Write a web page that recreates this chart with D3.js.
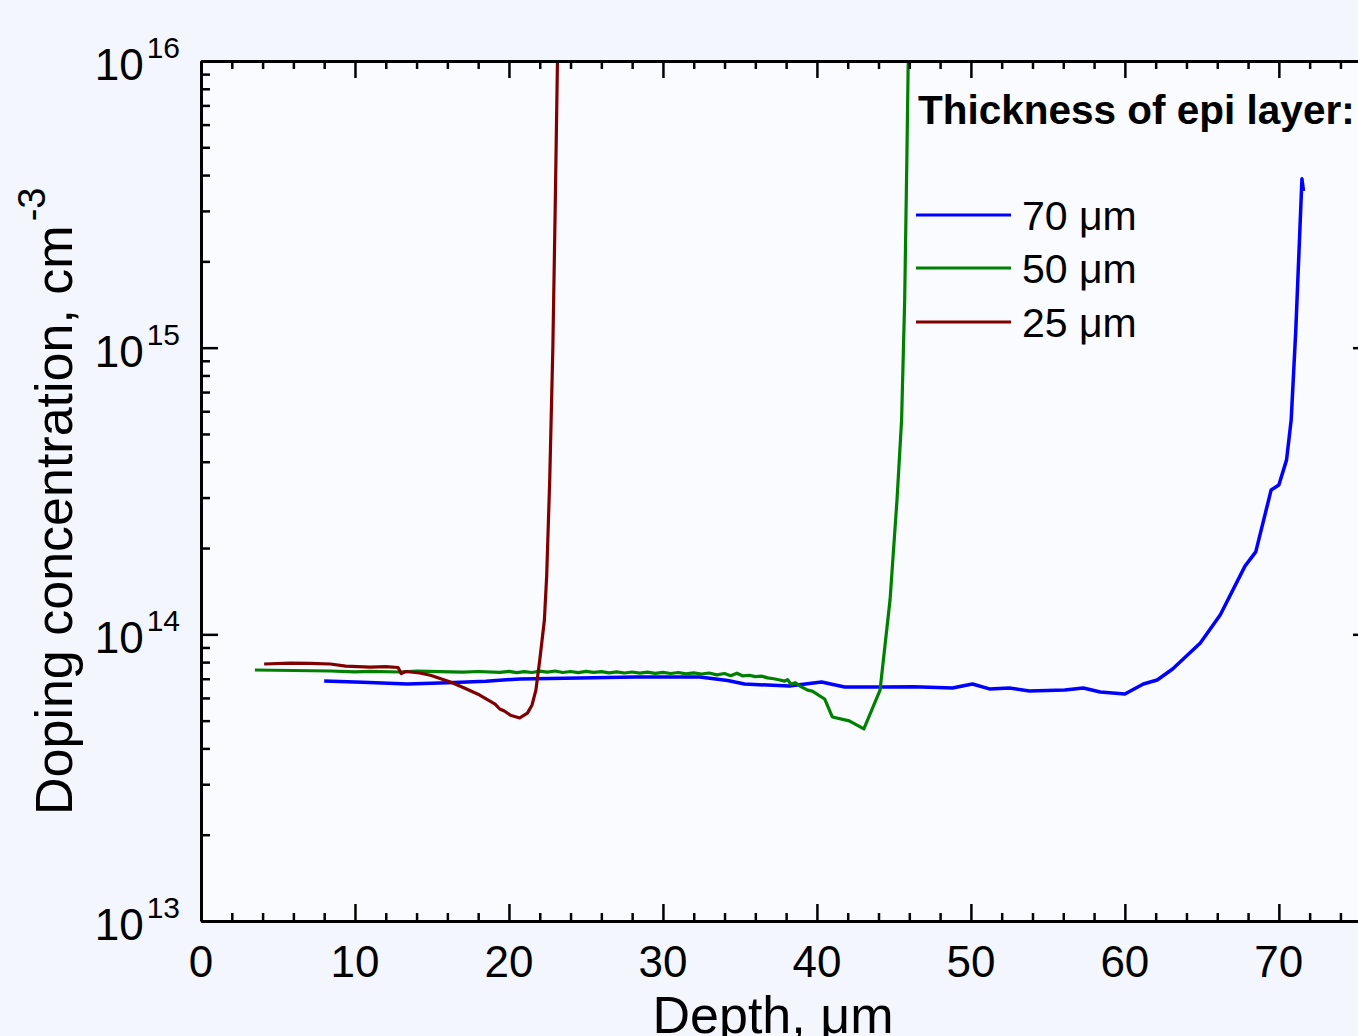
<!DOCTYPE html>
<html>
<head>
<meta charset="utf-8">
<script src="https://cdn.jsdelivr.net/npm/d3@7"></script>
<style>
    body { margin: 0; background: #f3f7fd; overflow: hidden; }
    svg { display: block; font-family: "Liberation Sans", Arial, sans-serif; }
    .axis path, .axis line { stroke: #000; }
</style>
</head>
<body>
<div id="chart-div"></div>
<script>
// depth (um), doping concentration (cm^-3)
const series70 = [
    [8.0, 6.87e13], [10.5, 6.80e13], [13.4, 6.71e13], [16.0, 6.78e13], [18.5, 6.86e13],
    [20.7, 6.99e13], [24.6, 7.04e13], [28.2, 7.10e13], [32.4, 7.10e13], [34.2, 6.90e13],
    [35.3, 6.71e13], [38.2, 6.60e13], [40.3, 6.82e13], [41.8, 6.55e13], [44.3, 6.55e13],
    [46.3, 6.56e13], [48.8, 6.50e13], [50.1, 6.71e13], [51.2, 6.45e13], [52.5, 6.50e13],
    [53.8, 6.34e13], [56.1, 6.39e13], [57.3, 6.50e13], [58.4, 6.29e13], [60.0, 6.19e13],
    [61.2, 6.71e13], [62.1, 6.93e13], [63.1, 7.57e13], [64.9, 9.33e13], [66.2, 1.17e14],
    [67.8, 1.73e14], [68.5, 1.94e14], [69.5, 3.19e14], [70.0, 3.32e14], [70.5, 4.06e14],
    [70.8, 5.59e14], [71.1, 1.15e15], [71.5, 3.88e15], [71.6, 3.52e15]
];

const series50 = [
    [3.5, 7.51e13], [6.0, 7.48e13], [8.4, 7.45e13], [10.0, 7.40e13], [11.0, 7.43e13],
    [12.9, 7.39e13], [14.0, 7.44e13], [15.5, 7.41e13], [17.0, 7.38e13], [18.0, 7.42e13],
    [19.4, 7.37e13], [20.0, 7.43e13], [20.5, 7.35e13], [21.0, 7.41e13], [21.5, 7.36e13],
    [22.0, 7.44e13], [22.5, 7.38e13], [23.0, 7.45e13], [23.5, 7.36e13], [24.0, 7.42e13],
    [24.5, 7.35e13], [25.0, 7.43e13], [25.5, 7.37e13], [26.0, 7.41e13], [26.5, 7.34e13],
    [27.0, 7.40e13], [27.5, 7.33e13], [28.0, 7.39e13], [28.5, 7.32e13], [29.0, 7.38e13],
    [29.5, 7.31e13], [30.0, 7.37e13], [30.5, 7.30e13], [31.0, 7.36e13], [31.5, 7.28e13],
    [32.0, 7.34e13], [32.5, 7.27e13], [33.0, 7.33e13], [33.5, 7.22e13], [34.0, 7.30e13],
    [34.4, 7.17e13], [34.8, 7.32e13], [35.2, 7.16e13], [35.6, 7.20e13], [36.0, 7.12e13],
    [36.4, 7.15e13], [36.8, 7.05e13], [37.2, 7.00e13], [37.6, 6.93e13], [37.9, 6.87e13],
    [38.1, 6.95e13], [38.3, 6.70e13], [38.6, 6.78e13], [38.9, 6.60e13], [39.4, 6.39e13],
    [39.7, 6.34e13], [40.5, 5.95e13], [41.0, 5.15e13], [42.1, 4.99e13], [43.05, 4.68e13],
    [44.1, 6.39e13], [44.75, 1.32e14], [45.2, 2.94e14], [45.5, 5.6e14], [45.7, 1.47e15],
    [45.85, 4.9e15], [45.95, 1.2e16]
];

const series25 = [
    [4.1, 7.88e13], [5.8, 7.94e13], [7.1, 7.92e13], [8.4, 7.88e13], [9.4, 7.75e13],
    [11.0, 7.69e13], [12.0, 7.71e13], [12.8, 7.66e13], [13.0, 7.30e13], [13.3, 7.42e13],
    [14.2, 7.33e13], [14.9, 7.20e13], [16.2, 6.82e13], [17.1, 6.50e13], [18.1, 6.14e13],
    [19.1, 5.71e13], [19.4, 5.49e13], [19.7, 5.40e13], [20.1, 5.22e13], [20.7, 5.11e13],
    [21.2, 5.31e13], [21.5, 5.67e13], [21.75, 6.39e13], [22.0, 8.14e13], [22.3, 1.12e14],
    [22.45, 1.6e14], [22.65, 3.5e14], [22.85, 1.0e15], [23.0, 3.0e15], [23.15, 1.0e16],
    [23.2, 1.3e16]
];

const seriesNames = ["70 \u03bcm", "50 \u03bcm", "25 \u03bcm"];
const seriesColors = ["#0000ff", "#008000", "#800000"];
const seriesWidths = [3.5, 3.2, 3.2];

const xMajorTicks = [0, 10, 20, 30, 40, 50, 60, 70];
const xMinorTicks = d3.range(2, 76, 2).filter(v => v % 10 !== 0);
const yMajorExponents = [13, 14, 15, 16];

const WIDTH = 1358;
const HEIGHT = 1036;
const PLOT_LEFT = 201;
const PLOT_RIGHT = 1362;
const PLOT_TOP = 61;
const PLOT_BOTTOM = 921;

setup();

function setup() {
    let svg = d3.select("#chart-div")
        .append("svg")
        .attr("width", WIDTH)
        .attr("height", HEIGHT);

    let xScale = d3.scaleLinear()
        .domain([0, 75.4])
        .range([PLOT_LEFT, PLOT_RIGHT]);

    let yScale = d3.scaleLog()
        .domain([1e13, 1e16])
        .range([PLOT_BOTTOM, PLOT_TOP]);

    // plot background
    svg.append("rect")
        .attr("x", PLOT_LEFT)
        .attr("y", PLOT_TOP)
        .attr("width", PLOT_RIGHT - PLOT_LEFT)
        .attr("height", PLOT_BOTTOM - PLOT_TOP)
        .attr("fill", "#f9fbff");

    svg.append("clipPath")
        .attr("id", "plot-clip")
        .append("rect")
        .attr("x", PLOT_LEFT)
        .attr("y", PLOT_TOP)
        .attr("width", PLOT_RIGHT - PLOT_LEFT)
        .attr("height", PLOT_BOTTOM - PLOT_TOP);

    let line = d3.line()
        .x(d => xScale(d[0]))
        .y(d => yScale(d[1]));

    let allSeries = [series70, series50, series25];
    let lines = svg.append("g").attr("clip-path", "url(#plot-clip)");
    allSeries.forEach((s, i) => {
        lines.append("path")
            .datum(s)
            .attr("d", line)
            .attr("fill", "none")
            .attr("stroke", seriesColors[i])
            .attr("stroke-width", seriesWidths[i])
            .attr("stroke-linejoin", "round");
    });

    // minor y ticks (2..9 per decade)
    let yMinor = [];
    for (let e = 13; e < 16; e++) {
        for (let m = 2; m <= 9; m++) yMinor.push(m * Math.pow(10, e));
    }
    let yMajor = yMajorExponents.map(e => Math.pow(10, e));

    // bottom axis
    let bottom = svg.append("g")
        .classed("axis", true)
        .attr("transform", "translate(0," + PLOT_BOTTOM + ")");
    bottom.call(d3.axisBottom(xScale).tickValues(xMajorTicks).tickSize(-17).tickSizeOuter(0).tickFormat(""));
    bottom.append("g").call(d3.axisBottom(xScale).tickValues(xMinorTicks).tickSize(-8).tickSizeOuter(0).tickFormat(""))
        .select(".domain").remove();

    // top axis
    let top = svg.append("g")
        .classed("axis", true)
        .attr("transform", "translate(0," + PLOT_TOP + ")");
    top.call(d3.axisTop(xScale).tickValues(xMajorTicks).tickSize(-17).tickSizeOuter(0).tickFormat(""));
    top.append("g").call(d3.axisTop(xScale).tickValues(xMinorTicks).tickSize(-8).tickSizeOuter(0).tickFormat(""))
        .select(".domain").remove();

    // left axis
    let left = svg.append("g")
        .classed("axis", true)
        .attr("transform", "translate(" + PLOT_LEFT + ",0)");
    left.call(d3.axisLeft(yScale).tickValues(yMajor).tickSize(-17).tickSizeOuter(0).tickFormat(""));
    left.append("g").call(d3.axisLeft(yScale).tickValues(yMinor).tickSize(-9).tickSizeOuter(0).tickFormat(""))
        .select(".domain").remove();

    // right axis (majors only)
    let right = svg.append("g")
        .classed("axis", true)
        .attr("transform", "translate(" + PLOT_RIGHT + ",0)");
    right.call(d3.axisRight(yScale).tickValues(yMajor).tickSize(-9).tickSizeOuter(0).tickFormat(""));

    svg.selectAll(".axis .domain").attr("stroke-width", 3);
    svg.selectAll(".axis .tick line").attr("stroke-width", 2.5);

    // x tick labels
    svg.append("g")
        .selectAll("text")
        .data(xMajorTicks)
        .enter()
        .append("text")
        .attr("x", d => xScale(d))
        .attr("y", PLOT_BOTTOM + 56)
        .attr("text-anchor", "middle")
        .attr("font-size", 44)
        .text(d => d);

    // y tick labels, 10^n
    let yLabels = svg.append("g")
        .selectAll("text")
        .data(yMajorExponents)
        .enter()
        .append("text")
        .attr("x", 180)
        .attr("y", d => yScale(Math.pow(10, d)) + 19)
        .attr("text-anchor", "end")
        .attr("font-size", 44);
    yLabels.append("tspan").text("10");
    yLabels.append("tspan")
        .attr("font-size", 30)
        .attr("dx", 3)
        .attr("dy", -22)
        .text(d => d);

    // axis titles
    svg.append("text")
        .attr("x", 773)
        .attr("y", 1033)
        .attr("text-anchor", "middle")
        .attr("font-size", 52)
        .text("Depth, \u03bcm");

    let yTitle = svg.append("text")
        .attr("transform", "translate(72,815)rotate(-90)")
        .attr("font-size", 52);
    yTitle.append("tspan").text("Doping concentration, cm");
    yTitle.append("tspan")
        .attr("font-size", 38)
        .attr("dx", 4)
        .attr("dy", -27)
        .text("-3");

    // legend
    svg.append("text")
        .attr("x", 918)
        .attr("y", 124)
        .attr("font-size", 40.5)
        .attr("font-weight", "bold")
        .text("Thickness of epi layer:");

    let legendY = [215, 268, 322];
    seriesNames.forEach((name, i) => {
        svg.append("line")
            .attr("x1", 916)
            .attr("x2", 1011)
            .attr("y1", legendY[i])
            .attr("y2", legendY[i])
            .attr("stroke", seriesColors[i])
            .attr("stroke-width", 3);
        svg.append("text")
            .attr("x", 1022)
            .attr("y", legendY[i] + 15)
            .attr("font-size", 41)
            .text(name);
    });
}
</script>
</body>
</html>
